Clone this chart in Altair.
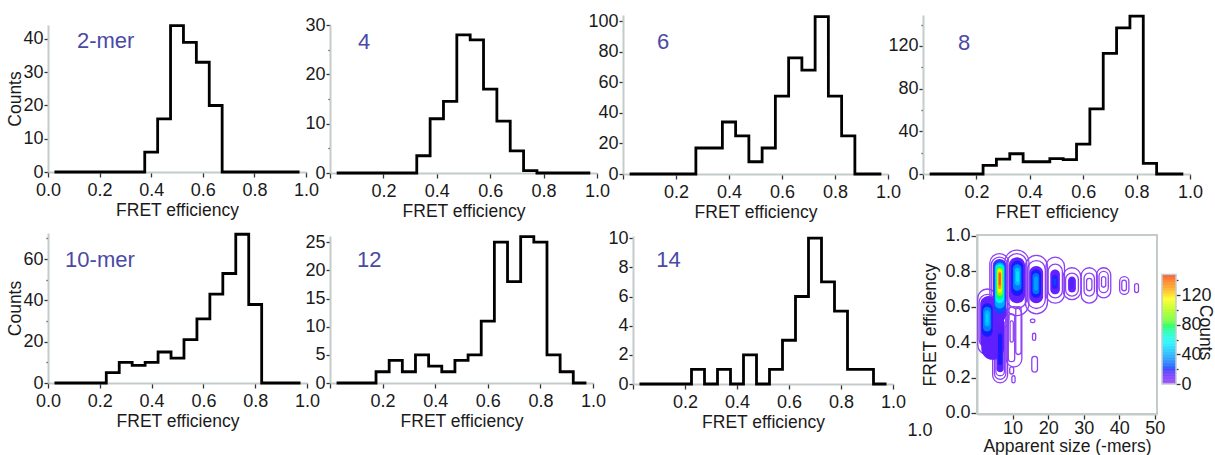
import altair as alt
import pandas as pd

W, H = 1215, 455
FONT = "Liberation Sans"
INK = "#1a1a1a"
AXIS_GREY = "#c3cbcb"
LABEL_BLUE = "#4a4aa6"
CONTOUR_PURPLE = "#8d40f5"

# ---------------------------------------------------------------- histograms
bin_centres = [0.05, 0.10, 0.15, 0.20, 0.25, 0.30, 0.35, 0.40, 0.45, 0.50,
               0.55, 0.60, 0.65, 0.70, 0.75, 0.80, 0.85, 0.90, 0.95]
BIN_HALF = 0.025

counts_2mer = [0, 0, 0, 0, 0, 0, 0, 6, 16, 44, 39, 33, 20, 0, 0, 0, 0, 0, 0]
counts_4mer = [0, 0, 0, 0, 0, 0, 3.5, 11, 14.5, 28, 27, 17, 10.5, 4.5, 0.5, 0, 0, 0, 0]
counts_6mer = [0, 0, 0, 0, 0, 17, 17, 34, 25, 8, 17, 51, 76, 68, 103, 51, 25, 0, 0]
counts_8mer = [0, 0, 0, 0, 8, 14, 19, 11.5, 11.5, 14.5, 13.5, 28, 61, 113, 137, 148, 10, 0, 0]
counts_10mer = [0, 0, 0, 0, 5, 10, 8.5, 10, 15, 12, 21, 31, 43, 53, 72, 38, 0, 0, 0]
counts_12mer = [0, 0, 0, 2, 4, 2, 5, 3, 2, 4, 5, 11, 25, 18, 26, 25, 5, 2, 0]
counts_14mer = [0, 0, 0, 0, 1, 0, 1, 0, 2, 0, 1, 3, 6, 10, 7, 5, 1, 1, 0]

fret_ticks = [0.0, 0.2, 0.4, 0.6, 0.8, 1.0]

# panel placement on the page (pixel ranges of the scales) and annotations
panels = [
    dict(name="2-mer", counts=counts_2mer, xr=(48, 306), yr=(172, 25), ymax=44.2,
         yticks=[0, 10, 20, 30, 40], every=10, zero_label=True, ytitle="Counts",
         label_at=(0.112, 37.3)),
    dict(name="4", counts=counts_4mer, xr=(330, 597), yr=(173, 25), ymax=30,
         yticks=[0, 5, 10, 15, 20, 25, 30], every=10, zero_label=False, ytitle=None,
         label_at=(0.105, 25.1)),
    dict(name="6", counts=counts_6mer, xr=(623, 888), yr=(174, 15), ymax=104,
         yticks=[0, 20, 40, 60, 80, 100], every=20, zero_label=False, ytitle=None,
         label_at=(0.128, 81.7)),
    dict(name="8", counts=counts_8mer, xr=(923, 1190), yr=(174, 15), ymax=149,
         yticks=[0, 20, 40, 60, 80, 100, 120, 140], every=40, zero_label=False, ytitle=None,
         label_at=(0.131, 116)),
    dict(name="10-mer", counts=counts_10mer, xr=(48, 307), yr=(383, 233), ymax=72.6,
         yticks=[0, 10, 20, 30, 40, 50, 60, 70], every=20, zero_label=True, ytitle="Counts",
         label_at=(0.066, 56.1)),
    dict(name="12", counts=counts_12mer, xr=(330, 593), yr=(383, 236), ymax=26.1,
         yticks=[0, 5, 10, 15, 20, 25], every=5, zero_label=False, ytitle=None,
         label_at=(0.103, 20.6)),
    dict(name="14", counts=counts_14mer, xr=(633, 893), yr=(384, 236), ymax=10.15,
         yticks=[0, 2, 4, 6, 8, 10], every=2, zero_label=False, ytitle=None,
         label_at=(0.089, 8.0)),
]


def step_frame(counts):
    edges = [c - BIN_HALF for c in bin_centres] + [bin_centres[-1] + BIN_HALF]
    heights = list(counts) + [counts[-1]]
    return pd.DataFrame({"fret": edges, "count": heights})


def hist_panel(p):
    xs = alt.Scale(domain=[0, 1], range=list(p["xr"]), nice=False, zero=False)
    ys = alt.Scale(domain=[0, p["ymax"]], range=list(p["yr"]), nice=False, zero=False)
    if p["zero_label"]:
        xlab = "format(datum.value, '.1f')"
    else:
        xlab = "datum.value == 0 ? '' : format(datum.value, '.1f')"
    xa = alt.Axis(orient="bottom", offset=p["yr"][0] - H, values=fret_ticks,
                  labelExpr=xlab, title="FRET efficiency", tickSize=5,
                  labelPadding=4, titlePadding=2)
    minor = f"datum.value % {p['every']} != 0"
    ya = alt.Axis(orient="left", offset=-p["xr"][0], values=p["yticks"],
                  labelExpr=f"{minor} ? '' : format(datum.value, 'd')",
                  tickSize={"condition": {"test": minor, "value": 2}, "value": 4},
                  title=p["ytitle"], titlePadding=-2, minExtent=0, labelPadding=1)
    line = alt.Chart(step_frame(p["counts"])).mark_line(
        interpolate="step-after", color="black", strokeWidth=2.8
    ).encode(
        x=alt.X("fret:Q", scale=xs, axis=xa),
        y=alt.Y("count:Q", scale=ys, axis=ya),
    )
    lab = pd.DataFrame({"fret": [p["label_at"][0]], "count": [p["label_at"][1]],
                        "txt": [p["name"]]})
    text = alt.Chart(lab).mark_text(
        align="left", baseline="alphabetic", font=FONT, fontSize=22, color=LABEL_BLUE
    ).encode(
        x=alt.X("fret:Q", scale=xs, axis=xa),
        y=alt.Y("count:Q", scale=ys, axis=ya),
        text="txt:N",
    )
    return alt.layer(line, text)


# ------------------------------------------------------- 2-D contour panel
# contour rings: extent in apparent size (mers) and FRET, and contour level (counts)
ring_size_lo = [0.2, 0.6, 0.9, 1.2, 1.3, 1.7, 2.1, 2.5,
                3.6, 4.0, 4.4, 4.8, 5.0, 5.2, 5.4, 5.6, 5.8, 5.95, 6.1,
                4.4, 4.9, 5.3, 5.5, 5.9,
                7.8, 8.4, 9.0, 9.6, 10.1, 10.6, 11.0,
                8.2, 8.8, 10.9, 9.3,
                13.6, 14.2, 14.7, 15.2, 15.6, 16.0,
                19.4, 20.0, 20.6, 21.1, 21.5,
                24.2, 24.9, 25.6, 26.1,
                29.3, 30.1, 30.8,
                33.6, 34.3, 35.0,
                40.1, 40.7,
                44.3,
                15.0, 15.6, 15.4, 9.2, 9.8]
ring_size_hi = [5.6, 5.2, 5.5, 7.6, 4.4, 4.0, 3.6, 3.2,
                9.0, 8.6, 8.3, 8.0, 7.8, 7.6, 7.4, 7.2, 7.0, 6.85, 6.7,
                8.6, 8.1, 7.7, 7.5, 7.1,
                14.6, 14.0, 13.5, 13.0, 12.5, 12.1, 11.8,
                12.6, 10.6, 12.4, 10.2,
                19.8, 19.2, 18.6, 18.0, 17.5, 17.1,
                24.6, 24.0, 23.3, 22.7, 22.3,
                29.2, 28.5, 27.8, 27.2,
                33.8, 33.0, 32.3,
                37.6, 36.9, 36.2,
                42.7, 42.0,
                45.4,
                16.3, 16.5, 17.0, 10.3, 10.7]
ring_fret_lo = [0.33, 0.37, 0.36, 0.30, 0.43, 0.46, 0.49, 0.51,
                0.47, 0.50, 0.52, 0.56, 0.59, 0.62, 0.64, 0.66, 0.68, 0.70, 0.72,
                0.17, 0.19, 0.21, 0.23, 0.27,
                0.55, 0.59, 0.62, 0.66, 0.69, 0.72, 0.74,
                0.26, 0.29, 0.33, 0.40,
                0.56, 0.59, 0.62, 0.65, 0.67, 0.69,
                0.62, 0.65, 0.67, 0.70, 0.72,
                0.64, 0.66, 0.68, 0.70,
                0.62, 0.66, 0.69,
                0.65, 0.68, 0.71,
                0.67, 0.69,
                0.68,
                0.51, 0.41, 0.23, 0.22, 0.17]
ring_fret_hi = [0.70, 0.67, 0.66, 0.62, 0.62, 0.60, 0.58, 0.56,
                0.90, 0.88, 0.87, 0.86, 0.85, 0.84, 0.83, 0.82, 0.81, 0.80, 0.79,
                0.58, 0.55, 0.52, 0.50, 0.45,
                0.92, 0.90, 0.88, 0.86, 0.84, 0.82, 0.80,
                0.60, 0.56, 0.60, 0.52,
                0.89, 0.86, 0.83, 0.81, 0.79, 0.77,
                0.88, 0.84, 0.81, 0.78, 0.76,
                0.82, 0.79, 0.77, 0.76,
                0.82, 0.79, 0.76,
                0.82, 0.80, 0.77,
                0.77, 0.75,
                0.73,
                0.53, 0.45, 0.32, 0.26, 0.21]
ring_level = [1, 4, 10, 11, 20, 32, 42, 48,
              1, 4, 10, 25, 40, 55, 75, 95, 112, 128, 142,
              1, 3, 5, 12, 20,
              1, 4, 10, 20, 32, 44, 52,
              1, 3, 3, 2,
              1, 4, 10, 20, 30, 38,
              1, 4, 10, 18, 24,
              1, 4, 9, 13,
              1, 4, 6,
              1, 4, 6,
              1, 4,
              2,
              3, 3, 3, 3, 3]

level_stops = [0, 20, 40, 55, 80, 100, 115, 130, 148]
level_colours = ["#8b2bff", "#1a1aff", "#00a8ff", "#00f0ff", "#00ff30",
                 "#a8ff00", "#ffff00", "#ff9900", "#ff2000"]
colour_scale = alt.Scale(domain=level_stops, range=level_colours, clamp=True)

FILL_FROM = 8

rings = pd.DataFrame({"s0": ring_size_lo, "s1": ring_size_hi,
                      "f0": ring_fret_lo, "f1": ring_fret_hi, "lvl": ring_level})
rings = rings.sort_values("lvl", kind="stable")
outline_rings = rings[rings["lvl"] < FILL_FROM]
filled_rings = rings[rings["lvl"] >= FILL_FROM]

SIZE_MAX = 50.6
FRET_LO, FRET_HI = -0.006, 1.005
xs2 = alt.Scale(domain=[0, SIZE_MAX], range=[977, 1157], nice=False, zero=False)
ys2 = alt.Scale(domain=[FRET_LO, FRET_HI], range=[414, 235], nice=False, zero=False)
xa2 = alt.Axis(orient="bottom", offset=414 - H, values=[10, 20, 30, 40, 50],
               title="Apparent size (-mers)", tickSize=5, labelPadding=0, titlePadding=0)
ya2 = alt.Axis(orient="left", offset=-977, values=fret_ticks, format=".1f",
               title="FRET efficiency", tickSize=6, labelPadding=1, titlePadding=5,
               minExtent=0)

frame = alt.Chart(pd.DataFrame({"s0": [0], "s1": [SIZE_MAX],
                                "f0": [FRET_LO], "f1": [FRET_HI]})).mark_rect(
    fillOpacity=0, stroke=AXIS_GREY, strokeWidth=2
).encode(
    x=alt.X("s0:Q", scale=xs2, axis=xa2), x2="s1:Q",
    y=alt.Y("f0:Q", scale=ys2, axis=ya2), y2="f1:Q",
)
outlines = alt.Chart(outline_rings).mark_rect(
    fillOpacity=0, stroke=CONTOUR_PURPLE, strokeWidth=1.3, cornerRadius=60
).encode(
    x=alt.X("s0:Q", scale=xs2, axis=xa2), x2="s1:Q",
    y=alt.Y("f0:Q", scale=ys2, axis=ya2), y2="f1:Q",
)
fills = alt.Chart(filled_rings).mark_rect(cornerRadius=60, strokeWidth=0).encode(
    x=alt.X("s0:Q", scale=xs2, axis=xa2), x2="s1:Q",
    y=alt.Y("f0:Q", scale=ys2, axis=ya2), y2="f1:Q",
    color=alt.Color("lvl:Q", scale=colour_scale, legend=None),
)
contour_panel = alt.layer(frame, outlines, fills)

# -------------------------------------------------------------- colour bar
ramp = pd.DataFrame({"v0": list(range(0, 148))})
ramp["v1"] = ramp["v0"] + 1
ramp["mid"] = ramp["v0"] + 0.5
ramp["c0"] = 0
ramp["c1"] = 1
xs3 = alt.Scale(domain=[0, 1], range=[1162, 1176], nice=False, zero=False)
ys3 = alt.Scale(domain=[0, 150], range=[384, 273], nice=False, zero=False)
cb_minor = "datum.value % 40 != 0"
ya3 = alt.Axis(orient="right", offset=1176 - W, values=[0, 20, 40, 60, 80, 100, 120, 140],
               labelExpr=f"{cb_minor} ? '' : format(datum.value, 'd')",
               tickSize={"condition": {"test": cb_minor, "value": 2}, "value": 4},
               labelPadding=1, title="Counts", titleAngle=90, titleX=28, titleY=332,
               titleAlign="center", titleBaseline="middle", domain=False)
bar = alt.Chart(ramp).mark_rect(strokeWidth=0).encode(
    x=alt.X("c0:Q", scale=xs3, axis=None), x2="c1:Q",
    y=alt.Y("v0:Q", scale=ys3, axis=ya3), y2="v1:Q",
    color=alt.Color("mid:Q", scale=colour_scale, legend=None),
)
bar_frame = alt.Chart(pd.DataFrame({"c0": [0], "c1": [1], "v0": [0], "v1": [148]})).mark_rect(
    fillOpacity=0, stroke=AXIS_GREY, strokeWidth=1.5
).encode(
    x=alt.X("c0:Q", scale=xs3, axis=None), x2="c1:Q",
    y=alt.Y("v0:Q", scale=ys3, axis=ya3), y2="v1:Q",
)
colour_bar = alt.layer(bar, bar_frame)

stray = alt.Chart(pd.DataFrame({"t": ["1.0"]})).mark_text(
    font=FONT, fontSize=18, color=INK, align="center", baseline="middle"
).encode(x=alt.value(920), y=alt.value(431), text="t:N")

layers = [hist_panel(p) for p in panels] + [contour_panel, colour_bar, stray]

chart = alt.layer(*layers).resolve_scale(
    x="independent", y="independent", color="independent"
).resolve_axis(
    x="independent", y="independent"
).properties(
    width=W, height=H, padding=0, autosize=alt.AutoSizeParams(type="none")
).configure_view(
    strokeOpacity=0
).configure_axis(
    grid=False, labelFont=FONT, titleFont=FONT, labelFontSize=18, titleFontSize=17.5,
    titleFontWeight="normal", labelColor=INK, titleColor=INK,
    domainColor=AXIS_GREY, domainWidth=2, tickColor="#333333", tickWidth=1.3,
    labelFlush=False, labelOverlap=False, labelBound=False,
)

chart.save("out.html", embed_options={"renderer": "svg", "actions": False})
